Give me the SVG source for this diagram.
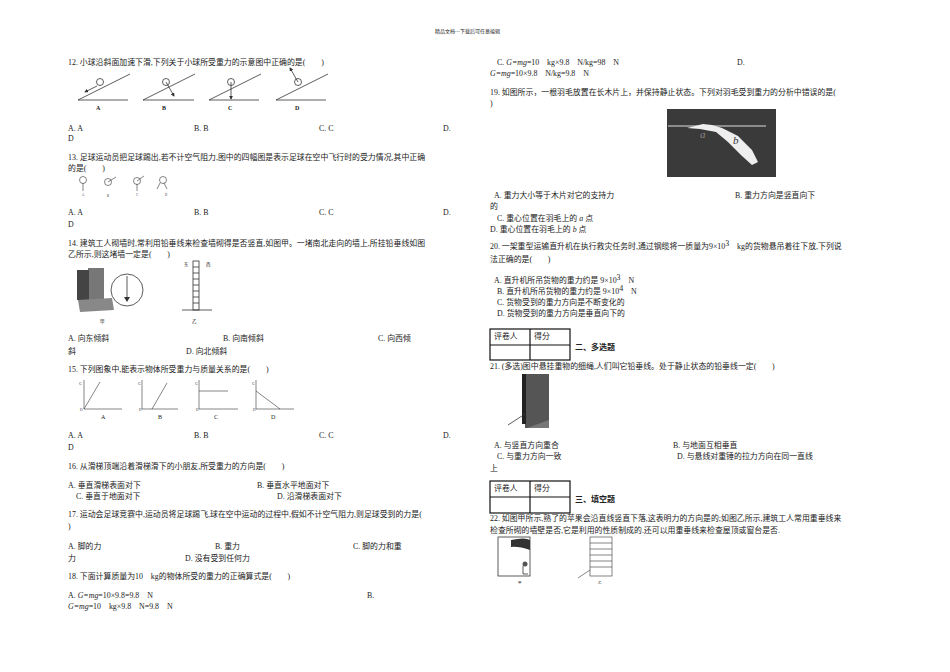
<svg xmlns="http://www.w3.org/2000/svg" width="950" height="672" viewBox="0 0 950 672">
<style>
text{font-family:"Liberation Serif","Noto Sans CJK SC",serif;font-size:7.9px;fill:#222}
.s{font-size:4.5px}
.b{font-weight:bold;font-size:8px}
.ln{stroke:#333;stroke-width:0.8;fill:none}
.tb{stroke:#111;stroke-width:1.2;fill:none}
</style>
<defs><marker id="ar" markerWidth="5" markerHeight="5" refX="4" refY="2.5" orient="auto"><path d="M0,0L5,2.5L0,5z" fill="#333"/></marker></defs>
<rect width="950" height="672" fill="#fff"/>
<text x="435" y="33" class="s" style="font-size:5px">精品文档---下载后可任意编辑</text>

<g id="q12">
<text x="68" y="65">12.  小球沿斜面加速下滑,下列关于小球所受重力的示意图中正确的是(　　)</text>
<g class="ln">
<path d="M78,100H128M78,100L130,74"/><circle cx="100" cy="82" r="3.5"/><path d="M97,86L85,92" marker-end="url(#ar)"/>
<path d="M143,100H194M143,100L195,74"/><circle cx="166" cy="82" r="3.5"/><path d="M166,82L174,96" marker-end="url(#ar)"/>
<path d="M209,100H259M209,100L261,74"/><circle cx="231" cy="82" r="3.5"/><path d="M231,82V99" marker-end="url(#ar)"/>
<path d="M276,100H326M276,100L328,74"/><circle cx="298" cy="82" r="3.5"/><path d="M298,82L290,68" marker-end="url(#ar)"/>
</g>
<text x="96" y="110" class="b" style="font-size:6px">A</text><text x="162" y="110" class="b" style="font-size:6px">B</text><text x="228" y="110" class="b" style="font-size:6px">C</text><text x="295" y="110" class="b" style="font-size:6px">D</text>
<text x="68" y="131">A. A</text><text x="194" y="131">B. B</text><text x="319" y="131">C. C</text><text x="443" y="131">D.</text><text x="68" y="141">D</text>
</g>

<g id="q13">
<text x="68" y="160">13.  足球运动员把足球踢出,若不计空气阻力,图中的四幅图是表示足球在空中飞行时的受力情况,其中正确</text>
<text x="68" y="171">的是(　　)</text>
<g class="ln" style="stroke-width:0.6">
<circle cx="83" cy="180" r="3.5"/><path d="M83,183V191"/>
<circle cx="108" cy="182" r="3.5"/><path d="M108,182L116,177"/>
<circle cx="137" cy="181" r="3.5"/><path d="M137,181L144,176M137,184V191"/>
<circle cx="163" cy="180" r="3.5"/><path d="M160,183L157,189M164,183L167,189"/>
</g>
<text x="82" y="196" class="s" style="font-size:3px">A</text><text x="107" y="197" class="s" style="font-size:3px">B</text><text x="136" y="196" class="s" style="font-size:3px">C</text><text x="165" y="196" class="s" style="font-size:3px">D</text>
<text x="68" y="215">A. A</text><text x="194" y="215">B. B</text><text x="319" y="215">C. C</text><text x="443" y="215">D.</text><text x="68" y="227">D</text>
</g>

<g id="q14">
<text x="68" y="246">14.  建筑工人砌墙时,常利用铅垂线来检查墙砌得是否竖直,如图甲。一堵南北走向的墙上,所挂铅垂线如图</text>
<text x="68" y="257">乙所示,则这堵墙一定是(　　)</text>
<rect x="88" y="268" width="16" height="40" fill="#777"/><rect x="77" y="270" width="12" height="30" fill="#444"/><path d="M78,300L112,298L114,310L80,312z" fill="#888"/>
<circle cx="127" cy="290" r="16" class="ln" fill="#fff"/><path d="M127,276V297" class="ln"/><path d="M124,297h6l-3,5z" fill="#333"/>
<text x="100" y="323" class="s">甲</text>
<g class="ln"><rect x="193" y="261" width="6" height="49"/><path d="M193,267h6M193,273h6M193,279h6M193,285h6M193,291h6M193,297h6M193,303h6M182,310H212"/></g>
<text x="184" y="266" class="s">东</text><text x="206" y="266" class="s">西</text><text x="192" y="323" class="s">乙</text>
<text x="68" y="341">A.  向东倾斜</text><text x="223" y="341">B.  向南倾斜</text><text x="378" y="341">C.  向西倾</text><text x="68" y="354">斜</text><text x="186" y="354">D.  向北倾斜</text>
</g>

<g id="q15">
<text x="68" y="372">15.  下列图象中,能表示物体所受重力与质量关系的是(　　)</text>
<g class="ln" style="stroke-width:0.6">
<path d="M84,380V409H122M84,409L100,382"/>
<path d="M142,380V409H178M152,409L167,383"/>
<path d="M199,380V409H238M199,391H228"/>
<path d="M256,380V409H294M256,391L280,409"/>
</g>
<text x="79" y="385" class="s" style="font-size:3.5px">G</text><text x="80" y="411" class="s" style="font-size:3.5px">O</text><text x="101" y="419" style="font-size:6px">A</text>
<text x="138" y="385" class="s" style="font-size:3.5px">G</text><text x="139" y="411" class="s" style="font-size:3.5px">O</text><text x="158" y="419" style="font-size:6px">B</text>
<text x="195" y="385" class="s" style="font-size:3.5px">G</text><text x="196" y="411" class="s" style="font-size:3.5px">O</text><text x="214" y="419" style="font-size:6px">C</text>
<text x="252" y="385" class="s" style="font-size:3.5px">G</text><text x="253" y="411" class="s" style="font-size:3.5px">O</text><text x="271" y="419" style="font-size:6px">D</text>
<text x="68" y="438">A. A</text><text x="194" y="438">B. B</text><text x="319" y="438">C. C</text><text x="443" y="438">D.</text><text x="68" y="450">D</text>
</g>

<g id="q16">
<text x="68" y="469">16.  从滑梯顶端沿着滑梯滑下的小朋友,所受重力的方向是(　　)</text>
<text x="68" y="488">A.  垂直滑梯表面对下</text><text x="257" y="488">B.  垂直水平地面对下</text>
<text x="76" y="499">C.  垂直于地面对下</text><text x="277" y="499">D.  沿滑梯表面对下</text>
</g>
<g id="q17">
<text x="68" y="517">17.  运动会足球竞赛中,运动员将足球踢飞,球在空中运动的过程中,假如不计空气阻力,则足球受到的力是(</text>
<text x="68" y="529">)</text>
<text x="68" y="549">A.  脚的力</text><text x="215" y="549">B.  重力</text><text x="353" y="549">C.  脚的力和重</text>
<text x="68" y="561">力</text><text x="185" y="561">D.  没有受到任何力</text>
</g>
<g id="q18">
<text x="68" y="579">18.  下面计算质量为10　kg的物体所受的重力的正确算式是(　　)</text>
<text x="68" y="598">A.  <tspan font-style="italic">G=mg</tspan>=10×9.8=9.8　N</text><text x="367" y="598">B.</text>
<text x="68" y="609"><tspan font-style="italic">G=mg</tspan>=10　kg×9.8　N=9.8　N</text>
</g>

<g id="q18r">
<text x="497" y="65">C.  <tspan font-style="italic">G=mg</tspan>=10　kg×9.8　N/kg=98　N</text><text x="737" y="65">D.</text>
<text x="490" y="76"><tspan font-style="italic">G=mg</tspan>=10×9.8　N/kg=9.8　N</text>
</g>
<g id="q19">
<text x="490" y="95">19.  如图所示，一根羽毛放置在长木片上，并保持静止状态。下列对羽毛受到重力的分析中错误的是(</text>
<text x="490" y="106">)</text>
<rect x="667" y="109" width="109" height="68" fill="#3a3a3a"/>
<path d="M668,126H766" stroke="#ddd" stroke-width="1"/>
<path d="M687,128L703,124L712,125L722,128L738,136L752,150L758,162L752,165L742,156L728,142L716,132L700,129z" fill="#eee"/>
<text x="700" y="138" style="font-size:11px;font-style:italic;fill:#888">a</text><text x="733" y="144" style="font-size:11px;font-style:italic;fill:#333">b</text>
<text x="494" y="198">A.  重力大小等于木片对它的支持力</text><text x="735" y="198">B.  重力方向是竖直向下</text>
<text x="490" y="209">的</text>
<text x="497" y="221">C.  重心位置在羽毛上的 <tspan font-style="italic">a</tspan> 点</text>
<text x="490" y="232">D.  重心位置在羽毛上的 <tspan font-style="italic">b</tspan> 点</text>
</g>
<g id="q20">
<text x="490" y="249">20.  一架重型运输直升机在执行救灾任务时,通过钢缆将一质量为9×10<tspan dy="-3">3</tspan><tspan dy="3">　kg的货物悬吊着往下放,下列说</tspan></text>
<text x="490" y="262">法正确的是(　　)</text>
<text x="494" y="283">A.  直升机所吊货物的重力约是 9×10<tspan dy="-3">3</tspan><tspan dy="3">　N</tspan></text>
<text x="497" y="294">B.  直升机所吊货物的重力约是 9×10<tspan dy="-3">4</tspan><tspan dy="3">　N</tspan></text>
<text x="497" y="305">C.  货物受到的重力方向是不断变化的</text>
<text x="497" y="316">D.  货物受到的重力方向是垂直向下的</text>
</g>
<g id="sec2">
<g class="tb"><rect x="490" y="329" width="80" height="31"/><path d="M490,345H570M530,329V360"/></g>
<text x="494" y="339">评卷人</text><text x="534" y="339">得分</text>
<text x="575" y="350" class="b">二、多选题</text>
</g>
<g id="q21">
<text x="490" y="369">21.  (多选)图中悬挂重物的细绳,人们叫它铅垂线。处于静止状态的铅垂线一定(　　)</text>
<rect x="525" y="374" width="24" height="54" fill="#555"/><rect x="522" y="374" width="4" height="50" fill="#222"/>
<path d="M508,425L525,414" class="ln"/><path d="M527,428L549,420V428z" fill="#777"/>
<text x="494" y="448">A.  与竖直方向重合</text><text x="673" y="448">B.  与地面互相垂直</text>
<text x="497" y="459">C.  与重力方向一致</text><text x="677" y="459">D.  与悬线对重锤的拉力方向在同一直线</text>
<text x="490" y="471">上</text>
</g>
<g id="sec3">
<g class="tb"><rect x="490" y="481" width="80" height="32"/><path d="M490,497H570M530,481V513"/></g>
<text x="494" y="491">评卷人</text><text x="534" y="491">得分</text>
<text x="575" y="502" class="b">三、填空题</text>
</g>
<g id="q22">
<text x="490" y="521">22.  如图甲所示,熟了的苹果会沿直线竖直下落,这表明力的方向是的;如图乙所示,建筑工人常用重垂线来</text>
<text x="490" y="533">检查所砌的墙壁是否,它是利用的性质制成的.还可以用重垂线来检查屋顶或窗台是否.</text>
<rect x="498" y="537" width="32" height="39" class="ln"/><path d="M511,540Q525,537 530,540V550Q518,546 511,547z" fill="#333"/><circle cx="525" cy="564" r="2.5" fill="#555"/><path d="M523,566v8h5" class="ln"/>
<text x="518" y="584" class="s" style="font-size:3.5px">甲</text>
<g class="ln" style="stroke-width:0.6"><rect x="590" y="537" width="22" height="39"/><path d="M590,543h22M590,549h22M590,555h22M590,561h22M590,567h22M578,578L590,570"/></g>
<text x="598" y="584" class="s" style="font-size:3.5px">乙</text>
</g>
</svg>
